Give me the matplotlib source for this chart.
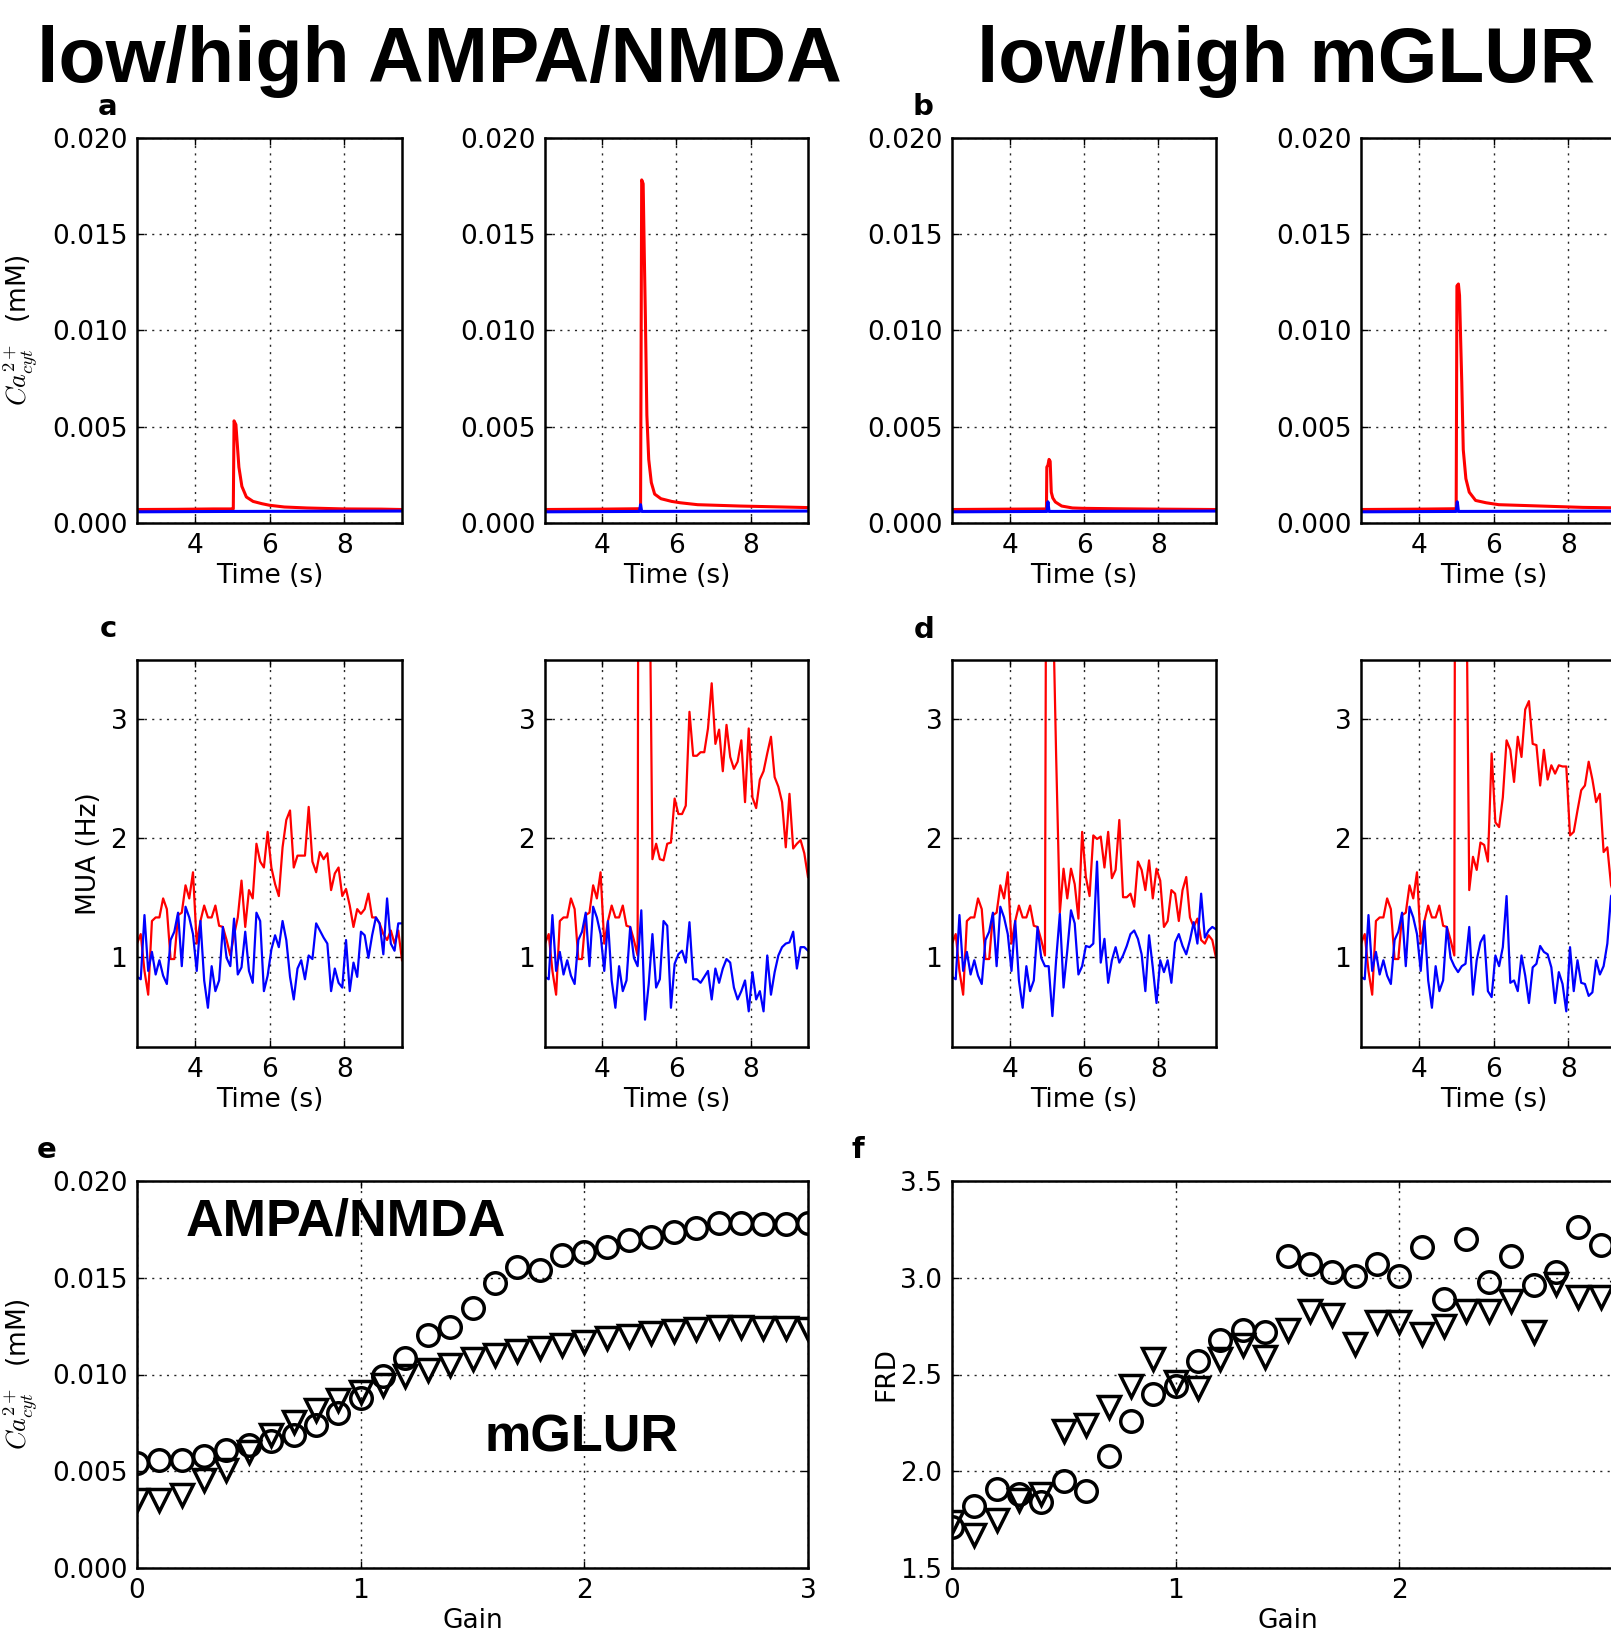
import matplotlib.pyplot as plt
import numpy as np
from matplotlib.ticker import FormatStrFormatter

plt.rcParams['font.family'] = 'DejaVu Sans'
plt.rcParams['mathtext.fontset'] = 'cm'

# ---------------- cytosolic Ca traces (row a/b) ----------------
a1_t = [2.45, 3.5, 4.5, 5.0, 5.03, 5.05, 5.10, 5.14, 5.18, 5.26, 5.38, 5.56, 5.8, 6.0, 6.4, 7.0, 8.0, 9.0, 9.55]
a1_red = [0.0007, 0.00071, 0.00073, 0.00073, 0.00073, 0.0053, 0.0051, 0.0040, 0.0029, 0.0019, 0.00135,
          0.00112, 0.0010, 0.00092, 0.00083, 0.00078, 0.00073, 0.00072, 0.0007]

a2_t = [2.45, 4.0, 5.0, 5.03, 5.06, 5.10, 5.13, 5.16, 5.20, 5.25, 5.32, 5.41, 5.58, 5.87, 6.1, 6.57, 7.72, 8.88, 9.55]
a2_red = [0.0007, 0.00072, 0.00074, 0.00074, 0.0178, 0.0176, 0.0140, 0.0107, 0.0056, 0.0033, 0.0021,
          0.0015, 0.00126, 0.00112, 0.00105, 0.00095, 0.00088, 0.00083, 0.0008]

b1_t = [2.45, 4.0, 4.99, 5.0, 5.03, 5.06, 5.09, 5.12, 5.16, 5.23, 5.4, 5.69, 6.0, 6.83, 8.0, 9.55]
b1_red = [0.0007, 0.00072, 0.00073, 0.0029, 0.0030, 0.0033, 0.0032, 0.0016, 0.0013, 0.00109, 0.00088,
          0.00078, 0.00076, 0.00074, 0.00072, 0.0007]

b2_t = [2.45, 4.0, 5.0, 5.02, 5.06, 5.09, 5.12, 5.15, 5.19, 5.26, 5.35, 5.52, 5.8, 6.14, 7.27, 8.39, 9.55]
b2_red = [0.0007, 0.00072, 0.00074, 0.0123, 0.0124, 0.0118, 0.0095, 0.0073, 0.0038, 0.0023, 0.0016,
          0.00117, 0.00105, 0.00095, 0.00088, 0.00081, 0.00078]

blue_ca_t = [2.45, 5.0, 5.03, 5.06, 9.55]
a1_blue = [0.00058, 0.0006, 0.0006, 0.0006, 0.00062]
a2_blue = [0.00058, 0.0006, 0.00095, 0.0006, 0.00062]
b1_blue = [0.00058, 0.0006, 0.0011, 0.0006, 0.00062]
b2_blue = [0.00058, 0.0006, 0.0011, 0.0006, 0.00062]

# ---------------- MUA traces (row c/d), 0.1 s bins ----------------
t_mua = np.round(2.45 + 0.1 * np.arange(72), 2)

# before stimulus onset all runs are identical
red_pre = [1.11, 1.19, 0.88, 0.68, 1.30, 1.33, 1.33, 1.49, 1.40, 0.98, 0.98, 1.35, 1.37,
           1.60, 1.49, 1.71, 1.11, 1.30, 1.43, 1.33, 1.33, 1.43, 1.26, 1.25, 1.14, 1.01]
blue_pre = [0.83, 0.81, 1.35, 0.88, 1.04, 0.85, 0.97, 0.84, 0.77, 1.14, 1.21, 1.37, 0.92,
            1.42, 1.33, 1.19, 0.88, 1.30, 0.80, 0.57, 0.92, 0.71, 0.80, 1.25, 0.99, 0.92]

c1_red = red_pre + [1.18, 1.33, 1.64, 1.25, 1.56, 1.49, 1.95, 1.80, 1.75, 2.05, 1.75, 1.61, 1.51,
                    1.92, 2.15, 2.23, 1.75, 1.85, 1.85, 1.85, 2.26, 1.80, 1.71, 1.88, 1.82, 1.87,
                    1.56, 1.70, 1.75, 1.51, 1.57, 1.43, 1.25, 1.40, 1.36, 1.40, 1.53, 1.33, 1.33,
                    1.28, 1.19, 1.14, 1.22, 1.11, 1.22, 0.97]
c1_blue = blue_pre + [1.32, 0.85, 0.91, 1.21, 0.88, 0.78, 1.37, 1.30, 0.71, 0.84, 1.06, 1.18, 1.08,
                      1.30, 1.14, 0.83, 0.64, 0.90, 0.97, 0.81, 1.01, 0.98, 1.28, 1.22, 1.16, 1.11,
                      0.71, 0.90, 0.78, 0.74, 1.14, 0.71, 0.95, 0.83, 1.21, 1.18, 0.99, 1.18, 1.33,
                      1.28, 1.02, 1.49, 1.11, 1.05, 1.28, 1.28]

c2_red = red_pre + [20.0, 12.0, 5.0, 1.82, 1.95, 1.82, 1.81, 1.95, 1.96, 2.33, 2.20, 2.20, 2.27,
                    3.06, 2.69, 2.69, 2.72, 2.72, 2.92, 3.30, 2.79, 2.91, 2.56, 2.95, 2.68, 2.58,
                    2.64, 2.82, 2.30, 2.92, 2.34, 2.25, 2.49, 2.56, 2.71, 2.85, 2.51, 2.43, 2.30,
                    1.92, 2.37, 1.91, 1.95, 1.98, 1.87, 1.67]
c2_blue = blue_pre + [1.39, 0.47, 0.77, 1.19, 0.74, 0.81, 1.30, 1.26, 0.57, 0.94, 1.02, 1.05, 0.95,
                      1.29, 0.81, 0.81, 0.78, 0.83, 0.88, 0.64, 0.90, 0.78, 0.90, 0.98, 0.95, 0.74,
                      0.64, 0.71, 0.80, 0.54, 0.87, 0.64, 0.71, 0.54, 1.01, 0.68, 0.87, 1.01, 1.08,
                      1.11, 1.12, 1.21, 0.90, 1.08, 1.08, 1.05]

d1_red = red_pre + [12.0, 4.2, 2.7, 1.37, 1.74, 1.49, 1.74, 1.61, 1.32, 2.05, 1.67, 1.51, 2.02,
                    1.99, 2.01, 1.75, 2.05, 1.66, 1.73, 2.15, 1.50, 1.50, 1.53, 1.42, 1.80, 1.73,
                    1.56, 1.81, 1.49, 1.74, 1.64, 1.25, 1.30, 1.56, 1.53, 1.30, 1.56, 1.67, 1.33,
                    1.25, 1.32, 1.14, 1.11, 1.18, 1.14, 0.99]
d1_blue = blue_pre + [0.92, 0.50, 0.97, 1.36, 0.74, 1.05, 1.39, 1.28, 0.85, 0.92, 1.09, 1.08, 1.11,
                      1.80, 0.95, 1.15, 0.78, 0.97, 1.08, 0.95, 1.01, 1.09, 1.19, 1.22, 1.15, 1.02,
                      0.71, 1.18, 0.91, 0.61, 0.97, 0.87, 0.97, 0.78, 1.12, 1.19, 1.09, 1.02, 1.14,
                      1.29, 1.11, 1.53, 1.16, 1.22, 1.25, 1.23]

d2_red = red_pre + [20.0, 12.0, 5.0, 1.56, 1.84, 1.73, 1.96, 1.94, 1.80, 2.71, 2.13, 2.09, 2.34,
                    2.82, 2.74, 2.47, 2.85, 2.68, 3.08, 3.15, 2.79, 2.78, 2.44, 2.74, 2.49, 2.61,
                    2.54, 2.61, 2.60, 2.60, 2.02, 2.05, 2.23, 2.40, 2.44, 2.64, 2.49, 2.30, 2.37,
                    1.88, 1.92, 1.60, 1.50]
d2_blue = blue_pre + [0.87, 0.92, 0.94, 1.25, 0.68, 0.97, 1.12, 1.18, 0.71, 0.66, 1.01, 0.92, 1.08,
                      1.51, 0.78, 0.80, 0.71, 1.01, 0.84, 0.61, 0.91, 0.94, 1.09, 1.04, 1.02, 0.91,
                      0.61, 0.87, 0.77, 0.54, 1.08, 0.71, 0.97, 0.78, 0.77, 0.67, 0.70, 0.97, 0.85,
                      0.92, 1.11, 1.51, 1.55]

# ---------------- gain sweeps (row e/f) ----------------
gain = np.round(np.arange(31) * 0.1, 1)
ca_ampa = [0.00542, 0.00556, 0.00559, 0.00577, 0.00611, 0.00637, 0.00654, 0.00688, 0.0074, 0.0080,
           0.00878, 0.0099, 0.01084, 0.01205, 0.01248, 0.01343, 0.01472, 0.01558, 0.0154, 0.01618,
           0.01635, 0.0166, 0.01695, 0.01713, 0.01738, 0.01756, 0.01781, 0.01785, 0.01778, 0.01778,
           0.01785]
ca_mglur = [0.00353, 0.0035, 0.00379, 0.00456, 0.00508, 0.00602, 0.00688, 0.00757, 0.00818, 0.00869,
            0.00912, 0.00947, 0.0099, 0.01024, 0.0105, 0.01079, 0.01102, 0.01122, 0.01139, 0.01153,
            0.0117, 0.01188, 0.0120, 0.01213, 0.01227, 0.01234, 0.01244, 0.01248, 0.01239, 0.01241,
            0.01234]
frd_ampa = [1.71, 1.82, 1.91, 1.88, 1.84, 1.95, 1.90, 2.08, 2.26, 2.40, 2.44, 2.57, 2.68, 2.73,
            2.72, 3.11, 3.07, 3.03, 3.01, 3.07, 3.01, 3.16, 2.89, 3.20, 2.98, 3.11, 2.96, 3.03,
            3.26, 3.17, 3.03]
frd_mglur = [1.74, 1.67, 1.75, 1.85, 1.88, 2.21, 2.24, 2.33, 2.44, 2.58, 2.46, 2.43, 2.58, 2.65,
             2.59, 2.73, 2.83, 2.81, 2.66, 2.77, 2.77, 2.71, 2.75, 2.83, 2.83, 2.88, 2.72, 2.97,
             2.90, 2.90, 2.92]

W, H = 1611, 1629
fig = plt.figure(figsize=(W / 100, H / 100), dpi=100)


def add_ax(x0, y0, x1, y1):
    # pixel box -> figure fraction
    return fig.add_axes([x0 / W, 1 - y1 / H, (x1 - x0) / W, (y1 - y0) / H])


def style(ax):
    ax.grid(True, color='0.15', linestyle=(0, (1.5, 3.8)), linewidth=1.0)
    ax.tick_params(direction='in', length=5, width=1, top=True, right=True,
                   labelsize=19, pad=7)
    for s in ax.spines.values():
        s.set_linewidth(1.8)
    ax.set_axisbelow(True)


cols = [(137, 402), (545, 808), (952, 1216), (1361, 1626)]
row1 = (137.5, 523)
row2 = (659.5, 1047)

# row 1: calcium
ca_sets = [(a1_t, a1_red, a1_blue), (a2_t, a2_red, a2_blue),
           (b1_t, b1_red, b1_blue), (b2_t, b2_red, b2_blue)]
for (x0, x1), (tt, red, blue) in zip(cols, ca_sets):
    ax = add_ax(x0, row1[0], x1, row1[1])
    style(ax)
    ax.plot(tt, red, color='red', lw=2.2)
    ax.plot(blue_ca_t, blue, color='blue', lw=2.2)
    ax.set_xlim(2.45, 9.55)
    ax.set_ylim(0, 0.020)
    ax.set_xticks([4, 6, 8])
    ax.set_yticks([0, 0.005, 0.010, 0.015, 0.020])
    ax.yaxis.set_major_formatter(FormatStrFormatter('%.3f'))
    ax.set_xlabel('Time (s)', fontsize=19, labelpad=3)
    if x0 == 137:
        ax.set_ylabel(r'$Ca^{2+}_{cyt}$  (mM)', fontsize=19)
        ax.yaxis.set_label_coords(-0.364, 0.5)

# row 2: MUA
mua_sets = [(c1_red, c1_blue), (c2_red, c2_blue), (d1_red, d1_blue), (d2_red, d2_blue)]
for (x0, x1), (red, blue) in zip(cols, mua_sets):
    ax = add_ax(x0, row2[0], x1, row2[1])
    style(ax)
    ax.plot(t_mua[:len(red)], red, color='red', lw=1.6)
    ax.plot(t_mua[:len(blue)], blue, color='blue', lw=1.6)
    ax.set_xlim(2.45, 9.55)
    ax.set_ylim(0.24, 3.5)
    ax.set_xticks([4, 6, 8])
    ax.set_yticks([1, 2, 3])
    ax.set_xlabel('Time (s)', fontsize=19, labelpad=3)
    if x0 == 137:
        ax.set_ylabel('MUA (Hz)', fontsize=19)
        ax.yaxis.set_label_coords(-0.132, 0.5)

mk = dict(linestyle='none', mfc='none', mec='k', ms=15.5, mew=2.5)

# row 3 left: peak calcium vs gain
ax = add_ax(137, 1181, 808, 1568)
style(ax)
ax.plot(gain, ca_ampa, marker='o', **mk)
ax.plot(gain, ca_mglur, marker='v', **mk)
ax.set_xlim(0, 3)
ax.set_ylim(0, 0.020)
ax.set_xticks([0, 1, 2, 3])
ax.set_yticks([0, 0.005, 0.010, 0.015, 0.020])
ax.yaxis.set_major_formatter(FormatStrFormatter('%.3f'))
ax.set_xlabel('Gain', fontsize=19, labelpad=3)
ax.set_ylabel(r'$Ca^{2+}_{cyt}$  (mM)', fontsize=19)
ax.yaxis.set_label_coords(-0.1435, 0.5)
ax.text(0.312, 1 - 55 / 387, 'AMPA/NMDA', transform=ax.transAxes, ha='center', va='baseline',
        fontsize=37.5, fontweight='bold', family='Liberation Sans')
ax.text(0.663, 1 - 271 / 387, 'mGLUR', transform=ax.transAxes, ha='center', va='baseline',
        fontsize=37.5, fontweight='bold', family='Liberation Sans')

# row 3 right: FRD vs gain
ax = add_ax(952, 1181, 1623, 1568)
style(ax)
ax.plot(gain, frd_ampa, marker='o', **mk)
ax.plot(gain, frd_mglur, marker='v', **mk)
ax.set_xlim(0, 3)
ax.set_ylim(1.5, 3.5)
ax.set_xticks([0, 1, 2, 3])
ax.set_yticks([1.5, 2.0, 2.5, 3.0, 3.5])
ax.yaxis.set_major_formatter(FormatStrFormatter('%.1f'))
ax.set_xlabel('Gain', fontsize=19, labelpad=3)
ax.set_ylabel('FRD', fontsize=19)
ax.yaxis.set_label_coords(-0.079, 0.5)

# headers and panel letters
fig.text(439 / W, 1 - 82 / H, 'low/high AMPA/NMDA', ha='center', va='baseline',
         fontsize=55.5, fontweight='bold', family='Liberation Sans')
fig.text(1286 / W, 1 - 82 / H, 'low/high mGLUR', ha='center', va='baseline',
         fontsize=55.3, fontweight='bold', family='Liberation Sans')
for lab, x, y in [('a', 108, 115), ('b', 923, 115), ('c', 108, 637),
                  ('d', 924, 638), ('e', 47, 1158), ('f', 858, 1158)]:
    fig.text(x / W, 1 - y / H, lab, ha='center', va='baseline', fontsize=21, fontweight='bold')

fig.savefig('out.png', dpi=100)
